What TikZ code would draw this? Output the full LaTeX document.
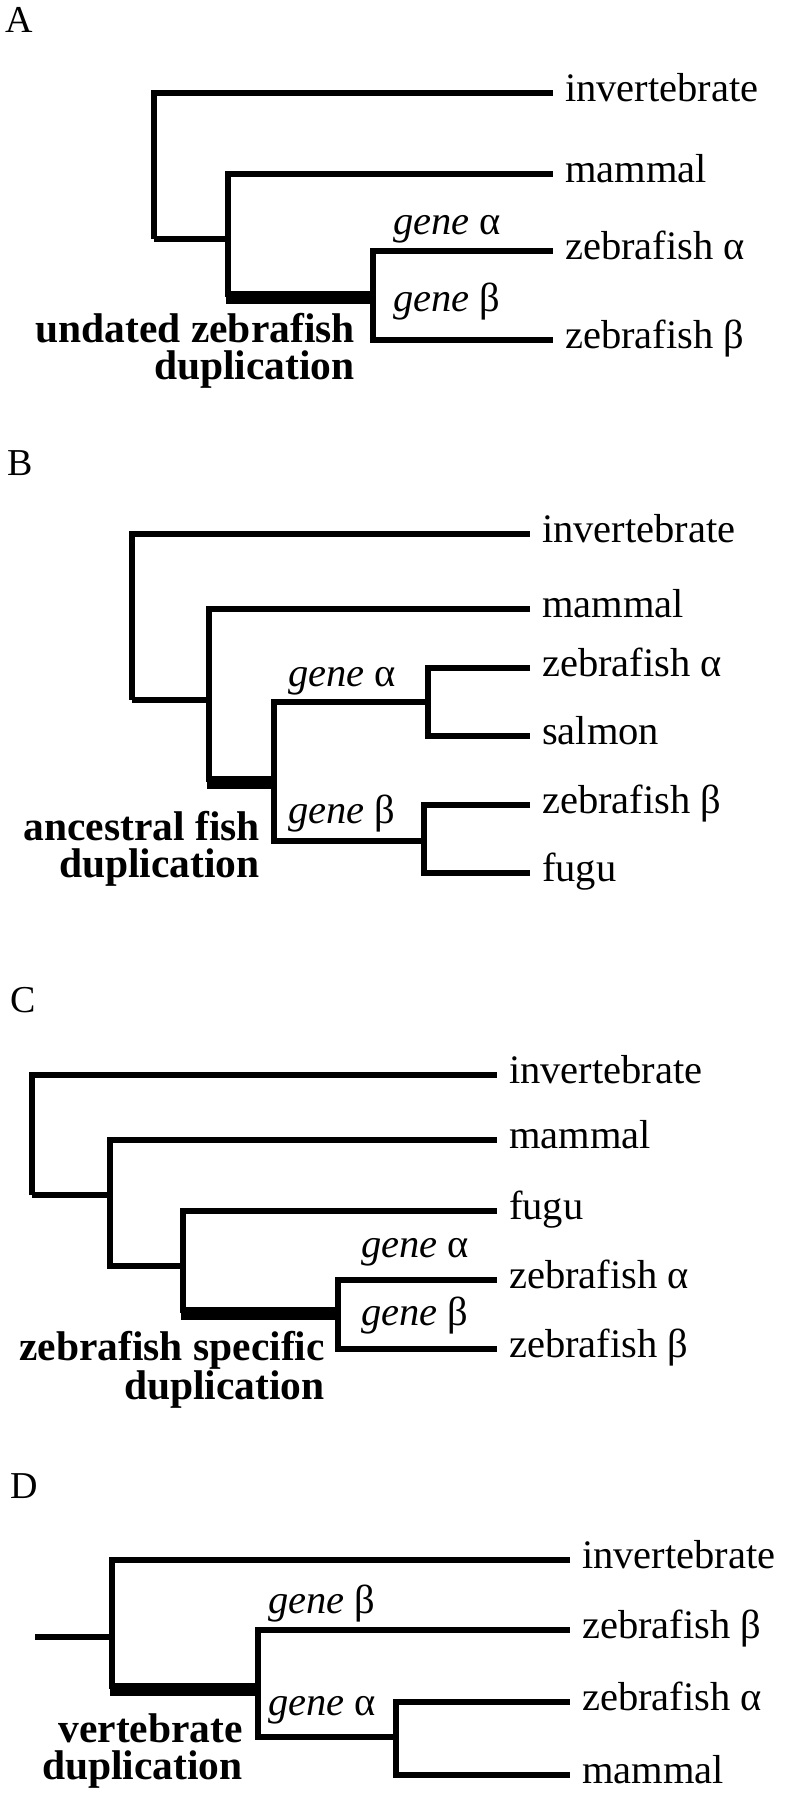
\documentclass[tikz,border=0pt]{standalone}
\usepackage{fontspec}
\setmainfont{Liberation Serif}
\usetikzlibrary{positioning}

\begin{document}
\begin{tikzpicture}[x=1pt,y=-1pt,
  treeline/.style={line width=5.5pt},
  dupline/.style={line width=13pt,shorten <=-2pt,shorten >=-2pt},
  leaf/.style={anchor=west,inner xsep=12pt,inner ysep=0pt,text height=16pt,text depth=0pt,font=\fontsize{40.5}{44}\selectfont},
  genelab/.style={anchor=base west,inner sep=0pt,font=\fontsize{40.5}{44}\selectfont},
  eventlab/.style={anchor=base east,align=right,inner sep=0pt,font=\fontsize{41.5}{37}\selectfont\bfseries},
  panellab/.style={anchor=base west,inner sep=0pt,font=\fontsize{38}{40}\selectfont}]
  \useasboundingbox (0,0) rectangle (788,1800);

  % A
  \node[panellab] (labA) at (5,32) {A};
  \coordinate (a0) at (154,239);
  \coordinate (a1) at (228,239);
  \coordinate (a2) at (228,297);
  \coordinate (a3) at (373,297);
  \node[leaf] (invA) at (553,93) {invertebrate};
  \node[leaf] (mamA) at (553,174) {mammal};
  \node[leaf] (zfaA) at (553,251) {zebrafish α};
  \node[leaf] (zfbA) at (553,340) {zebrafish β};
  \draw[treeline] (a0) |- (invA.west);
  \draw[treeline] (a0) -- (a1);
  \draw[treeline] (a2) |- (mamA.west);
  \draw[dupline] (a2) -- (a3);
  \draw[treeline] (zfaA.west) -| (a3) |- (zfbA.west);
  \node[genelab] (gaA) at (393,234) {\textit{gene} α};
  \node[genelab] (gbA) at (393,311) {\textit{gene} β};
  % last line of the label sits on the given point
  \node[eventlab] (evA) at (355,379) {undated zebrafish\\duplication};

  % B
  \node[panellab] (labB) at (7,475) {B};
  \coordinate (b0) at (132,700);
  \coordinate (b1) at (209,700);
  \coordinate (b2) at (209,782);
  \coordinate (b3) at (274,782);
  \coordinate (b4) at (428,702);
  \coordinate (b5) at (424,841);
  \node[leaf] (invB) at (530,534) {invertebrate};
  \node[leaf] (mamB) at (530,609) {mammal};
  \node[leaf] (zfaB) at (530,668) {zebrafish α};
  \node[leaf] (salB) at (530,736) {salmon};
  \node[leaf] (zfbB) at (530,805) {zebrafish β};
  \node[leaf] (fugB) at (530,873) {fugu};
  \draw[treeline] (b0) |- (invB.west);
  \draw[treeline] (b0) -- (b1);
  \draw[treeline] (b2) |- (mamB.west);
  \draw[dupline] (b2) -- (b3);
  \draw[treeline] (b4) -| (b3) |- (b5);
  \draw[treeline] (zfaB.west) -| (b4) |- (salB.west);
  \draw[treeline] (zfbB.west) -| (b5) |- (fugB.west);
  \node[genelab] (gaB) at (288,686) {\textit{gene} α};
  \node[genelab] (gbB) at (288,823) {\textit{gene} β};
  \node[eventlab] (evB) at (260,877) {ancestral fish\\duplication};

  % C
  \node[panellab] (labC) at (10,1012) {C};
  \coordinate (c0) at (32,1195);
  \coordinate (c1) at (110,1195);
  \coordinate (c2) at (110,1266);
  \coordinate (c3) at (183,1266);
  \coordinate (c4) at (183,1313);
  \coordinate (c5) at (338,1313);
  \node[leaf] (invC) at (497,1075) {invertebrate};
  \node[leaf] (mamC) at (497,1140) {mammal};
  \node[leaf] (fugC) at (497,1211) {fugu};
  \node[leaf] (zfaC) at (497,1280) {zebrafish α};
  \node[leaf] (zfbC) at (497,1349) {zebrafish β};
  \draw[treeline] (c0) |- (invC.west);
  \draw[treeline] (c0) -- (c1);
  \draw[treeline] (mamC.west) -| (c2) -- (c3);
  \draw[treeline] (fugC.west) -| (c4);
  \draw[dupline] (c4) -- (c5);
  \draw[treeline] (zfaC.west) -| (c5) |- (zfbC.west);
  \node[genelab] (gaC) at (361,1257) {\textit{gene} α};
  \node[genelab] (gbC) at (361,1325) {\textit{gene} β};
  \node[eventlab] (evC) at (325,1399) {zebrafish specific\\duplication};

  % D
  \node[panellab] (labD) at (10,1498) {D};
  \coordinate (dr) at (35,1637);
  \coordinate (d0) at (112,1637);
  \coordinate (d1) at (112,1689);
  \coordinate (d2) at (258,1689);
  \coordinate (d3) at (258,1737);
  \coordinate (d4) at (396,1737);
  \node[leaf] (invD) at (570,1560) {invertebrate};
  \node[leaf] (zfbD) at (570,1630) {zebrafish β};
  \node[leaf] (zfaD) at (570,1702) {zebrafish α};
  \node[leaf] (mamD) at (570,1775) {mammal};
  \draw[treeline] (dr) -- (d0);
  \draw[treeline] (invD.west) -| (d1);
  \draw[dupline] (d1) -- (d2);
  \draw[treeline] (zfbD.west) -| (d3) -- (d4);
  \draw[treeline] (zfaD.west) -| (d4) |- (mamD.west);
  \node[genelab] (gbD) at (268,1613) {\textit{gene} β};
  \node[genelab] (gaD) at (268,1715) {\textit{gene} α};
  \node[eventlab] (evD) at (243,1779) {vertebrate\\duplication};
\end{tikzpicture}
\end{document}
